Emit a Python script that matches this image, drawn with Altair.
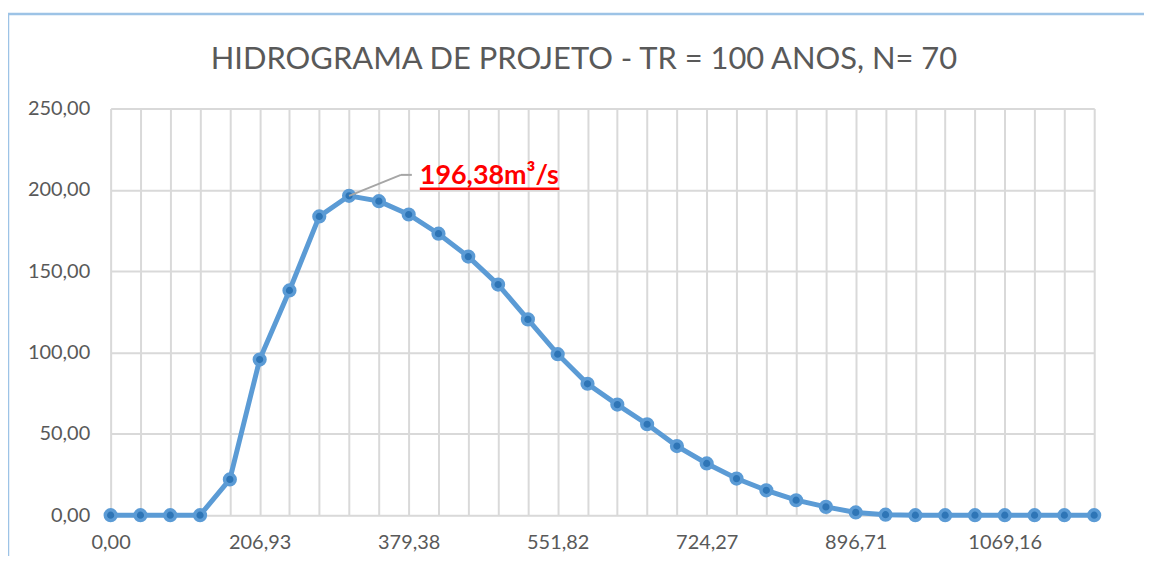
import json
import altair as alt
import pandas as pd

# ---- data ----
x_labels = ["0,00", "68,98", "103,47", "137,96", "172,44", "206,93", "241,42",
            "275,91", "310,40", "344,89", "379,38", "413,87", "448,36", "482,84",
            "517,33", "551,82", "586,31", "620,80", "655,29", "689,78", "724,27",
            "758,76", "793,25", "827,73", "862,22", "896,71", "931,20", "965,69",
            "1000,18", "1034,67", "1069,16", "1103,65", "1138,13", "1172,62"]
flow = [0.0, 0.0, 0.0, 0.0, 22.0, 95.7, 138.2, 183.7, 196.38, 193.1, 184.9,
        173.1, 159.0, 141.8, 120.4, 99.0, 80.8, 68.0, 55.9, 42.5, 31.8, 22.5,
        15.3, 9.2, 5.1, 1.7, 0.3, 0.0, 0.0, 0.0, 0.0, 0.0, 0.0, 0.0]
peak_label = "196,38m³/s"
title_text = "HIDROGRAMA DE PROJETO - TR = 100 ANOS, N= 70"
y_ticks = [0, 50, 100, 150, 200, 250]

df = pd.DataFrame({"i": list(range(len(flow))), "q": flow, "lab": x_labels})
peak_i = max(range(len(flow)), key=lambda k: flow[k])
peak = pd.DataFrame({"i": [peak_i], "q": [flow[peak_i]], "t": [peak_label]})

FONT = "Lato"
GRAY = "#595959"
GRID = "#d9d9d9"
BLUE = "#5b9bd5"
DARK = "#2e75b6"

n = len(flow)
lab_arr = json.dumps(x_labels)
x_enc = alt.X(
    "i:Q",
    scale=alt.Scale(domain=[0, n - 1], nice=False, zero=False),
    axis=alt.Axis(
        title=None, values=list(range(n)), tickCount=n, grid=True, gridColor=GRID,
        gridWidth=2, domain=False, ticks=False, labelOverlap=False,
        labelFlush=False, labelFont=FONT, labelFontSize=20, labelColor=GRAY,
        labelPadding=17,
        labelExpr=f"datum.value % 5 == 0 ? {lab_arr}[datum.value] : ''",
    ),
)
y_enc = alt.Y(
    "q:Q",
    scale=alt.Scale(domain=[0, 250], nice=False),
    axis=alt.Axis(
        title=None, values=y_ticks, grid=True, gridColor=GRID, gridWidth=2,
        domain=False, ticks=False, labelFont=FONT, labelFontSize=20,
        labelColor=GRAY, labelPadding=21,
        labelExpr="replace(format(datum.value, '.2f'), '.', ',')",
    ),
)

base = alt.Chart(df)
line = base.mark_line(color=BLUE, strokeWidth=5).encode(x=x_enc, y=y_enc)
pts = base.mark_point(filled=True, shape="circle", size=115, color=DARK,
                      stroke=BLUE, strokeWidth=3.5, opacity=1).encode(x="i:Q", y="q:Q")

pk = alt.Chart(peak)
lead1 = pk.mark_rule(color="#a6a6a6", strokeWidth=2, x2Offset=52, y2Offset=-21).encode(
    x="i:Q", y="q:Q", x2="i:Q", y2="q:Q")
lead2 = pk.mark_rule(color="#a6a6a6", strokeWidth=2, xOffset=52, yOffset=-21,
                     x2Offset=63, y2Offset=-21).encode(
    x="i:Q", y="q:Q", x2="i:Q", y2="q:Q")
txt = pk.mark_text(color="#ff0000", font=FONT, fontSize=27, fontWeight="bold",
                   align="left", baseline="alphabetic", dx=71, dy=-12).encode(
    x="i:Q", y="q:Q", text="t:N")
uline = pk.mark_rule(color="#ff0000", strokeWidth=2.5, xOffset=71, yOffset=-7,
                     x2Offset=211, y2Offset=-7).encode(
    x="i:Q", y="q:Q", x2="i:Q", y2="q:Q")

title = pk.mark_text(color=GRAY, font=FONT, fontSize=31, fontWeight="normal",
                     align="center", baseline="alphabetic").encode(
    x=alt.value(475), y=alt.value(-40), text=alt.value(title_text))

border = pk.mark_rect(fill=None, stroke="#9dc3e6", strokeWidth=2.5).encode(
    x=alt.value(-103), x2=alt.value(1080), y=alt.value(-95), y2=alt.value(600))

chart = alt.layer(border, line, pts, lead1, lead2, uline, txt, title).properties(
    width=987, height=408,
    autosize=alt.AutoSizeParams(type="none"),
    padding={"left": 103, "top": 100, "right": 50, "bottom": 40},
).configure_view(stroke=None).configure(background="white")

chart.save("out.html", embed_options={"renderer": "svg", "actions": False})
